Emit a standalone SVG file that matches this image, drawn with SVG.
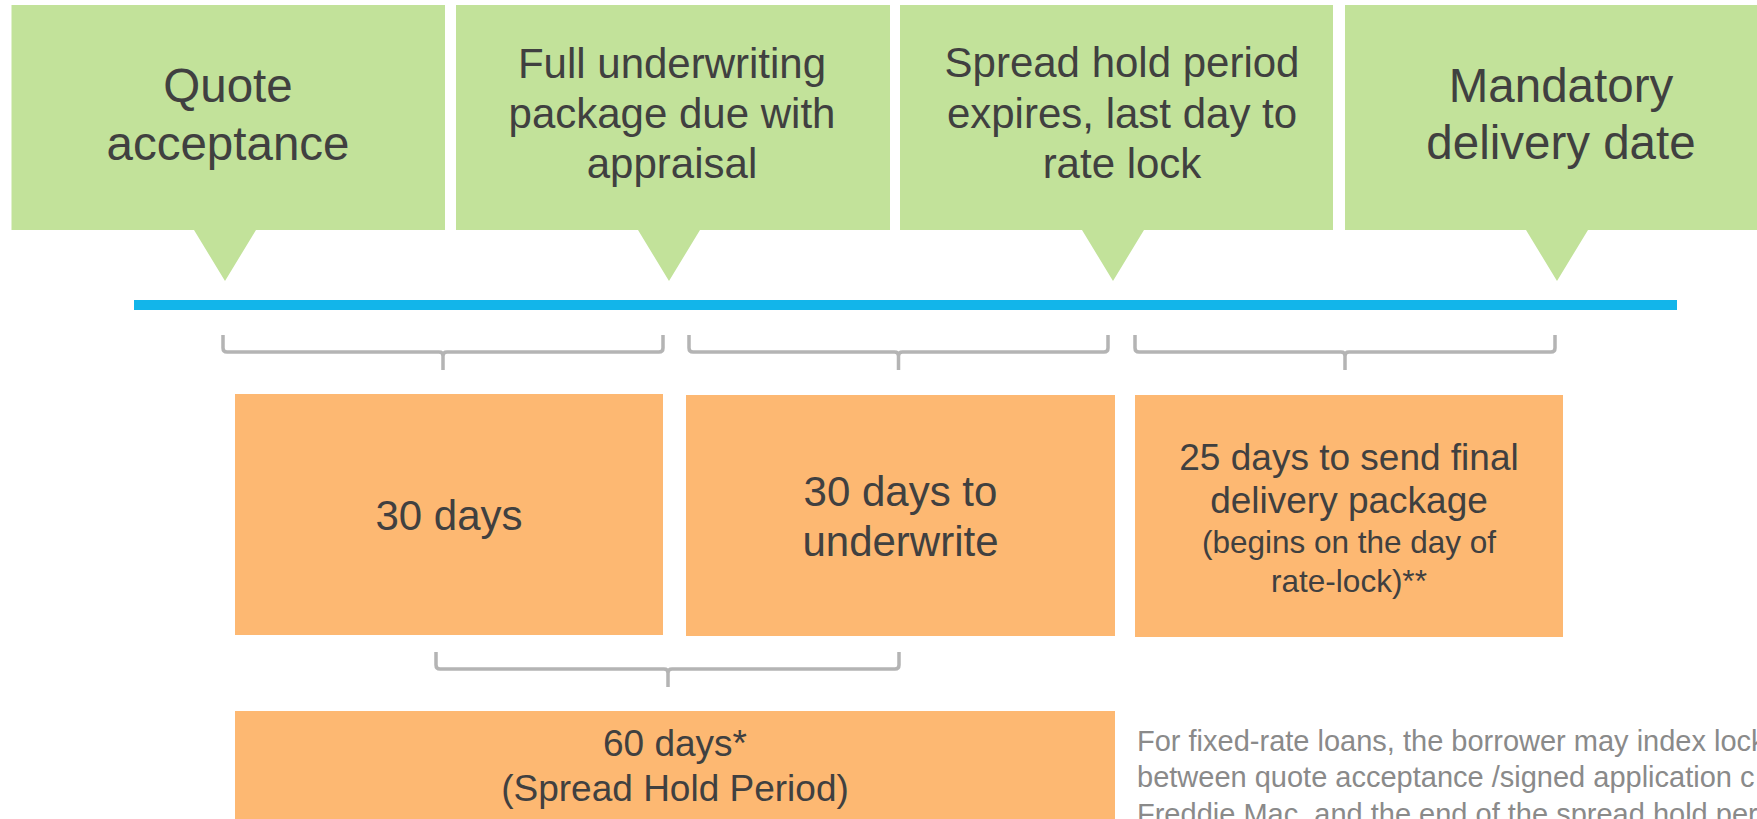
<svg xmlns="http://www.w3.org/2000/svg" width="1757" height="819" viewBox="0 0 1757 819">
<style>
.g{fill:#c2e29a}
.o{fill:#fdb872}
.t{font-family:"Liberation Sans",Arial,sans-serif;fill:#404040;text-anchor:middle}
.br{fill:none;stroke:#b4b4b4;stroke-width:3.5;stroke-linecap:butt;stroke-linejoin:round}
.fn{font-family:"Liberation Sans",Arial,sans-serif;fill:#8a8a8a;font-size:29px}
</style>
<rect width="1757" height="819" fill="#ffffff"/>
<g id="m1">
<path class="g" d="M11.5,5 H445 V230 H256 L225,281 L194,230 H11.5 Z"/>
<text class="t" font-size="47.5" x="228" y="101.7">Quote</text>
<text class="t" font-size="47.5" x="228" y="160">acceptance</text>
</g>
<g id="m2">
<path class="g" d="M456,5 H890 V230 H700 L669,281 L638,230 H456 Z"/>
<text class="t" font-size="42" x="672" y="78.3">Full underwriting</text>
<text class="t" font-size="42" x="672" y="128.3">package due with</text>
<text class="t" font-size="42" x="672" y="178.3">appraisal</text>
</g>
<g id="m3">
<path class="g" d="M900,5 H1333 V230 H1144 L1113,281 L1082,230 H900 Z"/>
<text class="t" font-size="42" x="1122" y="77.3">Spread hold period</text>
<text class="t" font-size="42" x="1122" y="128.3">expires, last day to</text>
<text class="t" font-size="42" x="1122" y="178.3">rate lock</text>
</g>
<g id="m4">
<path class="g" d="M1345,5 H1778 V230 H1588 L1557,281 L1526,230 H1345 Z"/>
<text class="t" font-size="47.5" x="1561" y="101.7">Mandatory</text>
<text class="t" font-size="47.5" x="1561" y="159.3">delivery date</text>
</g>
<g id="timeline">
<rect x="134" y="300" width="1543" height="10" fill="#12b5ea"/>
</g>
<g id="connectors">
<path class="br" d="M223,335 V348 Q223,352 227,352 H439 Q443,352 443,356 V370 M443,356 Q443,352 447,352 H659 Q663,352 663,348 V335"/>
<path class="br" d="M689,335 V348 Q689,352 693,352 H894.5 Q898.5,352 898.5,356 V370 M898.5,356 Q898.5,352 902.5,352 H1104 Q1108,352 1108,348 V335"/>
<path class="br" d="M1135,335 V348 Q1135,352 1139,352 H1341 Q1345,352 1345,356 V370 M1345,356 Q1345,352 1349,352 H1551 Q1555,352 1555,348 V335"/>
<path class="br" d="M436,652 V665 Q436,669 440,669 H664 Q668,669 668,673 V687 M668,673 Q668,669 672,669 H895 Q899,669 899,665 V652"/>
</g>
<g id="d1">
<rect class="o" x="235" y="394" width="428" height="241"/>
<text class="t" font-size="42" x="449" y="530">30 days</text>
</g>
<g id="d2">
<rect class="o" x="686" y="395" width="429" height="241"/>
<text class="t" font-size="42" x="900.5" y="506">30 days to</text>
<text class="t" font-size="42" x="900.5" y="556">underwrite</text>
</g>
<g id="d3">
<rect class="o" x="1135" y="395" width="428" height="242"/>
<text class="t" font-size="37" x="1349" y="470">25 days to send final</text>
<text class="t" font-size="37" x="1349" y="513">delivery package</text>
<text class="t" font-size="31.5" x="1349" y="553">(begins on the day of</text>
<text class="t" font-size="31.5" x="1349" y="592">rate-lock)**</text>
</g>
<g id="d4">
<rect class="o" x="235" y="711" width="880" height="120"/>
<text class="t" font-size="37" x="675" y="756">60 days*</text>
<text class="t" font-size="37" x="675" y="801">(Spread Hold Period)</text>
</g>
<g id="footnote">
<text class="fn" x="1137" y="750.5">For fixed-rate loans, the borrower may index lock</text>
<text class="fn" x="1137" y="787">between quote acceptance /signed application c</text>
<text class="fn" x="1137" y="823.5">Freddie Mac, and the end of the spread hold per</text>
</g>
</svg>
